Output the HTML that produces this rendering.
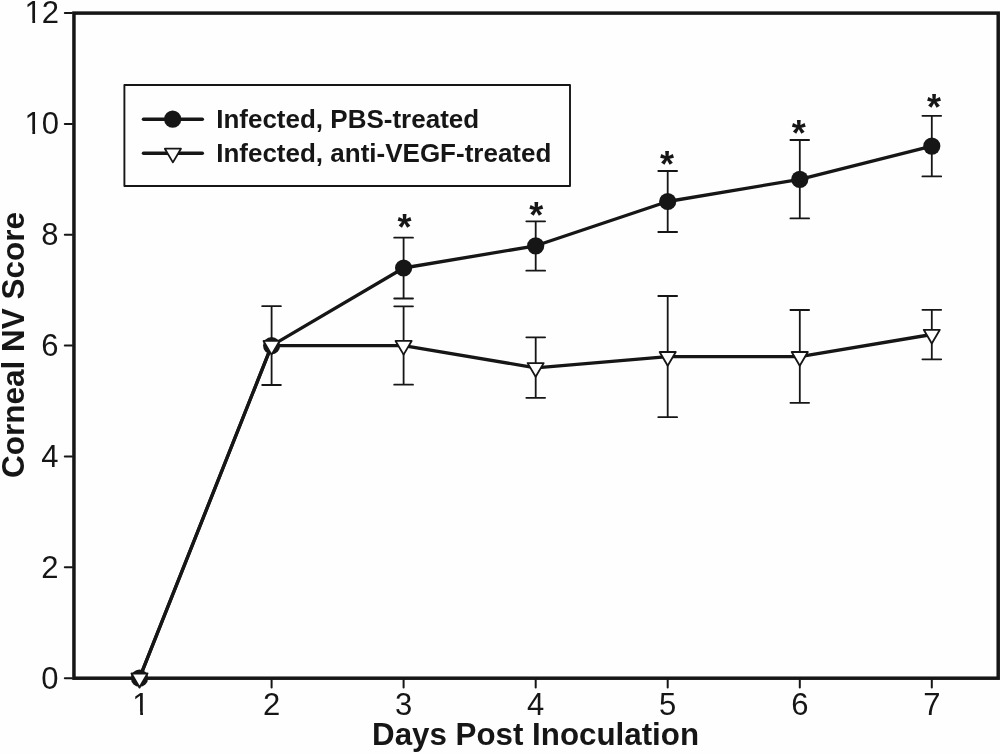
<!DOCTYPE html>
<html><head><meta charset="utf-8"><title>Corneal NV Score</title>
<style>html,body{margin:0;padding:0;background:#fefefe;}svg{display:block;filter:grayscale(1);font-family:"Liberation Sans",sans-serif;}</style></head><body>
<svg width="1000" height="753" viewBox="0 0 1000 753">
<rect x="0" y="0" width="1000" height="753" fill="#fefefe"/>
<rect x="73.95" y="13.1" width="924.25" height="665.1" fill="none" stroke="#161616" stroke-width="3.5"/>
<g stroke="#161616" stroke-width="2" stroke-linecap="round">
<line x1="64.8" y1="678.2" x2="72" y2="678.2"/>
<line x1="64.8" y1="567.3" x2="72" y2="567.3"/>
<line x1="64.8" y1="456.5" x2="72" y2="456.5"/>
<line x1="64.8" y1="345.6" x2="72" y2="345.6"/>
<line x1="64.8" y1="234.8" x2="72" y2="234.8"/>
<line x1="64.8" y1="123.9" x2="72" y2="123.9"/>
<line x1="64.8" y1="13.0" x2="72" y2="13.0"/>
<line x1="139.5" y1="680" x2="139.5" y2="687.6"/>
<line x1="271.6" y1="680" x2="271.6" y2="687.6"/>
<line x1="403.6" y1="680" x2="403.6" y2="687.6"/>
<line x1="535.7" y1="680" x2="535.7" y2="687.6"/>
<line x1="667.7" y1="680" x2="667.7" y2="687.6"/>
<line x1="799.8" y1="680" x2="799.8" y2="687.6"/>
<line x1="931.8" y1="680" x2="931.8" y2="687.6"/>
</g>
<g fill="#161616" font-size="31px" text-anchor="end">
<text x="58.5" y="688.5">0</text>
<text x="58.5" y="577.6">2</text>
<text x="58.5" y="466.8">4</text>
<text x="58.5" y="355.9">6</text>
<text x="58.5" y="245.1">8</text>
<text x="59.1" y="134.2">10</text>
<text x="59.1" y="23.3">12</text>
</g>
<g fill="#161616" font-size="31px" text-anchor="middle">
<text x="140.9" y="714.8">1</text>
<text x="271.6" y="714.8">2</text>
<text x="403.6" y="714.8">3</text>
<text x="535.7" y="714.8">4</text>
<text x="667.7" y="714.8">5</text>
<text x="799.8" y="714.8">6</text>
<text x="931.8" y="714.8">7</text>
</g>
<rect x="132.20" y="711.30" width="8" height="4.3" fill="#fefefe"/><rect x="142.95" y="711.30" width="7" height="4.3" fill="#fefefe"/>
<rect x="24.35" y="130.70" width="8" height="4.3" fill="#fefefe"/><rect x="35.10" y="130.70" width="7" height="4.3" fill="#fefefe"/>
<rect x="24.35" y="19.84" width="8" height="4.3" fill="#fefefe"/><rect x="35.10" y="19.84" width="7" height="4.3" fill="#fefefe"/>
<text x="372.1" y="744.7" fill="#161616" font-size="31.3px" font-weight="bold">Days Post Inoculation</text>
<text transform="translate(24.4,478.1) rotate(-90)" fill="#161616" font-size="31.5px" font-weight="bold">Corneal NV Score</text>
<polyline points="139.5,678.2 271.6,345.6 403.6,268.0 535.7,245.8 667.7,201.5 799.8,179.3 931.8,146.1" fill="none" stroke="#161616" stroke-width="3.3" stroke-linejoin="round"/>
<polyline points="139.5,678.2 271.6,345.6 403.6,345.6 535.7,367.8 667.7,356.7 799.8,356.7 931.8,334.5" fill="none" stroke="#161616" stroke-width="3.3" stroke-linejoin="round"/>
<g stroke="#161616" stroke-width="1.8" stroke-linecap="round">
<path d="M403.6 237.7 V298.5 M394.2 237.7 H413.0 M394.2 298.5 H413.0" fill="none"/>
<path d="M535.7 221.3 V270.7 M526.3 221.3 H545.1 M526.3 270.7 H545.1" fill="none"/>
<path d="M667.7 171.0 V232.0 M658.3 171.0 H677.1 M658.3 232.0 H677.1" fill="none"/>
<path d="M799.8 140.0 V218.4 M790.4 140.0 H809.1 M790.4 218.4 H809.1" fill="none"/>
<path d="M931.8 115.8 V176.4 M922.4 115.8 H941.2 M922.4 176.4 H941.2" fill="none"/>
<path d="M271.6 306.2 V385.0 M262.2 306.2 H280.9 M262.2 385.0 H280.9" fill="none"/>
<path d="M403.6 306.3 V384.7 M394.2 306.3 H413.0 M394.2 384.7 H413.0" fill="none"/>
<path d="M535.7 337.3 V397.8 M526.3 337.3 H545.1 M526.3 397.8 H545.1" fill="none"/>
<path d="M667.7 296.0 V417.2 M658.3 296.0 H677.1 M658.3 417.2 H677.1" fill="none"/>
<path d="M799.8 310.0 V402.8 M790.4 310.0 H809.1 M790.4 402.8 H809.1" fill="none"/>
<path d="M931.8 309.8 V359.3 M922.4 309.8 H941.2 M922.4 359.3 H941.2" fill="none"/>
</g>
<circle cx="139.5" cy="678.2" r="8.6" fill="#161616"/>
<circle cx="271.6" cy="345.6" r="8.6" fill="#161616"/>
<circle cx="403.6" cy="268.0" r="8.6" fill="#161616"/>
<circle cx="535.7" cy="245.8" r="8.6" fill="#161616"/>
<circle cx="667.7" cy="201.5" r="8.6" fill="#161616"/>
<circle cx="799.8" cy="179.3" r="8.6" fill="#161616"/>
<circle cx="931.8" cy="146.1" r="8.6" fill="#161616"/>
<path d="M131.45 673.50 H147.55 L139.50 687.20 Z" fill="#fefefe" stroke="#161616" stroke-width="1.8" stroke-linejoin="round"/>
<path d="M263.50 340.92 H279.60 L271.55 354.62 Z" fill="#fefefe" stroke="#161616" stroke-width="1.8" stroke-linejoin="round"/>
<path d="M395.55 340.92 H411.65 L403.60 354.62 Z" fill="#fefefe" stroke="#161616" stroke-width="1.8" stroke-linejoin="round"/>
<path d="M527.60 363.09 H543.70 L535.65 376.79 Z" fill="#fefefe" stroke="#161616" stroke-width="1.8" stroke-linejoin="round"/>
<path d="M659.65 352.01 H675.75 L667.70 365.71 Z" fill="#fefefe" stroke="#161616" stroke-width="1.8" stroke-linejoin="round"/>
<path d="M791.70 352.01 H807.80 L799.75 365.71 Z" fill="#fefefe" stroke="#161616" stroke-width="1.8" stroke-linejoin="round"/>
<path d="M923.75 329.83 H939.85 L931.80 343.53 Z" fill="#fefefe" stroke="#161616" stroke-width="1.8" stroke-linejoin="round"/>
<g fill="#161616" font-size="36px" font-weight="bold" text-anchor="middle">
<text x="404.5" y="240.2">*</text>
<text x="536.2" y="227.9">*</text>
<text x="667.1" y="177.4">*</text>
<text x="798.8" y="146.4">*</text>
<text x="934.1" y="120.0">*</text>
</g>
<rect x="124.4" y="85" width="445.6" height="101" fill="#fefefe" stroke="#161616" stroke-width="1.9" stroke-linejoin="round"/>
<line x1="143.5" y1="119.3" x2="202.3" y2="119.3" stroke="#161616" stroke-width="3.5" stroke-linecap="round"/>
<line x1="143.5" y1="153.3" x2="202.3" y2="153.3" stroke="#161616" stroke-width="3.5" stroke-linecap="round"/>
<circle cx="172.7" cy="119.2" r="8.6" fill="#161616"/>
<path d="M164.85 148.70 H180.95 L172.90 162.40 Z" fill="#fefefe" stroke="#161616" stroke-width="1.8" stroke-linejoin="round"/>
<g fill="#161616" font-size="26px" font-weight="bold"><text x="216.2" y="128.4">Infected, PBS-treated</text><text x="216.2" y="162.4">Infected, anti-VEGF-treated</text></g>
</svg></body></html>
